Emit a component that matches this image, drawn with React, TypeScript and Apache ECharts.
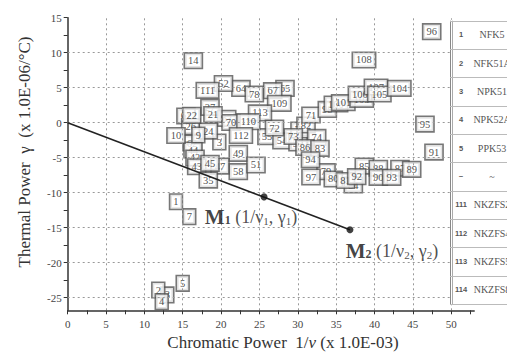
import React, { useEffect, useRef } from 'react';
import * as echarts from 'echarts';

// Glass labels (drawn in this order: later boxes cover earlier ones)
const glassIds = [
  '27', '61', '63', '26', '62', '44', '42', '47', '64', '55', '54', '59', '77', '82',
  '84', '79', '80', '81', '85', '88', '87', '3',
  '14', '52', '111', '78', '65', '67', '109', '113', '22', '21', '70', '110',
  '10', '3', '24', '9', '112', '49', '43', '45', '35', '58', '51',
  '72', '73', '74', '86', '83', '94', '97', '92', '90', '93', '89', '91', '95',
  '71', '98', '100', '101', '103', '106', '107', '105', '104', '108', '96',
  '1', '7', '5', '2', '4',
];
const chromaticPower = [
  18.55, 15.42, 20.73, 16.04, 16.21, 16.34, 16.6, 19.86, 22.59, 25.98, 27.94, 30.03, 30.29, 31.07,
  37.24, 33.68, 34.63, 36.22, 38.67, 40.5, 43.32, 12.99,
  16.38, 20.31, 18.23, 24.33, 28.33, 26.73, 27.59, 25.07, 16.17, 18.94, 21.29, 23.55,
  14.12, 19.77, 18.33, 17.03, 22.59, 22.24, 16.82, 18.55, 18.33, 22.24, 24.55,
  26.96, 29.41, 32.46, 30.94, 32.89, 31.66, 31.72, 37.68, 40.5, 42.24, 44.85, 47.76, 46.58,
  31.72, 33.85, 34.98, 35.93, 38.33, 38.11, 40.2, 40.63, 43.23, 38.63, 47.46,
  14.12, 15.85, 14.99, 11.81, 12.26,
];
const thermalPower = [
  2.2, 0.96, 0.63, -0.57, -2.9, -3.9, -5.04, -6.19, 4.89, -2.0, -2.61, -2.9, -1.04, -0.33,
  -8.9, -7.0, -8.04, -8.26, -6.19, -6.51, -6.51, -24.61,
  8.86, 5.6, 4.63, 4.1, 4.91, 4.57, 2.77, 1.39, 1.06, 1.17, 0.03, 0.14,
  -1.83, -2.76, -1.19, -1.76, -1.83, -4.37, -6.29, -5.8, -8.19, -7.0, -6.04,
  -0.76, -1.97, -2.11, -3.54, -3.66, -5.29, -7.76, -7.71, -7.8, -7.8, -6.66, -4.19, -0.19,
  1.1, 1.89, 2.67, 2.86, 3.34, 4.1, 5.1, 4.1, 4.91, 8.96, 13.0,
  -11.29, -13.43, -22.94, -23.9, -25.57,
];

// Marked points M1, M2 and the line from the origin
const markNames = ['M1', 'M2'];
const markX = [25.6, 36.8];
const markY = [-10.6, -15.3];
const lineX = [0, 36.8];
const lineY = [0, -15.3];

// Axis ticks / labels / grid
const xLabelValues = [0, 5, 10, 15, 20, 25, 30, 35, 40, 45, 50];
const xTickValues = [0, 2.5, 5, 7.5, 10, 12.5, 15, 17.5, 20, 22.5, 25, 27.5, 30, 32.5, 35, 37.5, 40, 42.5, 45, 47.5, 50, 52.5];
const yLabelValues = [-25, -20, -15, -10, -5, 0, 5, 10, 15];
const yTickValues = [-25, -22.5, -20, -17.5, -15, -12.5, -10, -7.5, -5, -2.5, 0, 2.5, 5, 7.5, 10, 12.5, 15];
const xGridValues = [5, 10, 15, 20, 25, 30, 35, 40, 45, 50];
const yGridValues = [-25, -20, -15, -10, -5, 0, 5, 10];

// Side table
const tableNums = ['1', '2', '3', '4', '5', '~', '111', '112', '113', '114'];
const tableNames = ['NFK5', 'NFK51A', 'NPK51', 'NPK52A', 'PPK53', '~', 'NKZFS2', 'NKZFS4', 'NKZFS5', 'NKZFS8'];

const SERIF = '"Liberation Serif", "Times New Roman", serif';
const SANS = '"Liberation Sans", Arial, sans-serif';

const richM = {
  M: { fontFamily: SERIF, fontSize: 21, fontWeight: 'bold', color: '#111' },
  ms: { fontFamily: SERIF, fontSize: 12, fontWeight: 'bold', color: '#111', verticalAlign: 'bottom', padding: [0, 0, 1, 0] },
  t: { fontFamily: SERIF, fontSize: 18, color: '#222' },
  ts: { fontFamily: SERIF, fontSize: 11, color: '#222', verticalAlign: 'bottom', padding: [0, 0, 1, 0] },
};

function markLabel(i: number) {
  const n = String(i + 1);
  return `{M|M}{ms|${n}}{t| (1/ν}{ts|${n}}{t|, γ}{ts|${n}}{t|)}`;
}
const markOffsets = [[-13, 20], [42, 21]];

export default function App() {
  const ref = useRef<HTMLDivElement>(null);
  useEffect(() => {
    if (!ref.current) return;
    const chart = echarts.init(ref.current, null, { renderer: 'svg' });

    const tableTop = 20.7;
    const rowH = 28.33;
    const tableBottom = tableTop + rowH * tableNums.length;
    const tableEls: any[] = [
      { type: 'rect', shape: { x: 450, y: tableTop - 1, width: 60, height: tableBottom - tableTop + 2 }, style: { fill: '#fff' }, z: 100, silent: true },
      { type: 'line', shape: { x1: 450.5, y1: tableTop, x2: 450.5, y2: tableBottom }, style: { stroke: '#888', lineWidth: 1 }, z: 101, silent: true },
      { type: 'line', shape: { x1: 452.5, y1: tableTop, x2: 452.5, y2: tableBottom }, style: { stroke: '#aaa', lineWidth: 1 }, z: 101, silent: true },
    ];
    for (let i = 0; i <= tableNums.length; i++) {
      const y = Math.round(tableTop + i * rowH) + 0.5;
      tableEls.push({ type: 'line', shape: { x1: 450, y1: y, x2: 507, y2: y }, style: { stroke: '#bbb', lineWidth: 1 }, z: 101, silent: true });
    }
    tableNums.forEach((n, i) => {
      const cy = tableTop + (i + 0.5) * rowH;
      tableEls.push({ type: 'text', x: 461, y: cy, z: 102, silent: true, style: { text: n, fontFamily: SANS, fontSize: 7.5, fontWeight: 'bold', fill: '#555', align: 'center', verticalAlign: 'middle', textAlign: 'center', textVerticalAlign: 'middle' } });
      tableEls.push({ type: 'text', x: 492, y: cy, z: 102, silent: true, style: { text: tableNames[i], fontFamily: SERIF, fontSize: 10, fill: '#555', align: 'center', verticalAlign: 'middle', textAlign: 'center', textVerticalAlign: 'middle' } });
    });

    const option: any = {
      animation: false,
      backgroundColor: '#fff',
      grid: { left: 67.7, top: 17.7, width: 406.5, height: 292.6, outerBoundsMode: 'none', containLabel: false },
      xAxis: {
        type: 'value', min: 0, max: 53,
        axisLine: { show: true, onZero: false, lineStyle: { color: '#333', width: 1.5 } },
        axisTick: { show: true, customValues: xTickValues, length: 4, lineStyle: { color: '#333', width: 1 } },
        axisLabel: { customValues: xLabelValues, fontFamily: SERIF, fontSize: 11, color: '#444', margin: 8 },
        splitLine: { show: false },
      },
      yAxis: {
        type: 'value', min: -26.8, max: 15,
        axisLine: { show: true, onZero: false, lineStyle: { color: '#333', width: 1.5 } },
        axisTick: { show: true, customValues: yTickValues, length: 4, lineStyle: { color: '#333', width: 1 } },
        axisLabel: { customValues: yLabelValues, fontFamily: SERIF, fontSize: 11, color: '#444', margin: 6 },
        splitLine: { show: false },
      },
      series: [
        {
          type: 'line', z: 1, data: [], silent: true,
          markLine: {
            silent: true, symbol: ['none', 'none'], label: { show: false },
            lineStyle: { type: [2, 3], color: '#999', width: 1 },
            emphasis: { disabled: true },
            data: [
              ...xGridValues.map((v) => ({ xAxis: v })),
              ...yGridValues.map((v) => ({ yAxis: v })),
            ],
          },
        },
        {
          type: 'scatter', z: 2, silent: true,
          symbol: 'rect', symbolSize: 1,
          itemStyle: { color: 'rgba(0,0,0,0)' },
          data: glassIds.map((id, i) => ({ name: id, value: [chromaticPower[i], thermalPower[i]] })),
          label: {
            show: true, position: 'inside', formatter: (p: any) => p.name,
            fontFamily: SERIF, fontSize: 10.5, lineHeight: 11, color: '#222',
            backgroundColor: '#fff', borderColor: '#555', borderWidth: 1.6, padding: [2, 3, 1, 3],
          },
          emphasis: { disabled: true },
        },
        {
          type: 'line', z: 5, silent: true, symbol: 'none',
          data: lineX.map((x, i) => [x, lineY[i]]),
          lineStyle: { color: '#222', width: 1.6 },
          emphasis: { disabled: true },
        },
        {
          type: 'scatter', z: 6, silent: true, symbolSize: 7,
          itemStyle: { color: '#111' },
          data: markNames.map((n, i) => ({
            name: n, value: [markX[i], markY[i]],
            label: { offset: markOffsets[i], formatter: markLabel(i) },
          })),
          label: { show: true, position: 'inside', rich: richM },
          emphasis: { disabled: true },
        },
      ],
      graphic: [
        {
          type: 'text', x: 24, y: 152, rotation: Math.PI / 2, silent: true, z: 50,
          style: { text: 'Thermal Power  γ  (x 1.0E-06/°C)', fontFamily: SERIF, fontSize: 17, fill: '#333', align: 'center', verticalAlign: 'middle', textAlign: 'center', textVerticalAlign: 'middle' },
        },
        {
          type: 'text', x: 283, y: 342, silent: true, z: 50,
          style: {
            text: '{a|Chromatic Power  1/}{i|v}{a| (x 1.0E-03)}',
            rich: {
              a: { fontFamily: SERIF, fontSize: 17, fill: '#333', color: '#333' },
              i: { fontFamily: SERIF, fontSize: 17, fontStyle: 'italic', fill: '#333', color: '#333' },
            },
            align: 'center', verticalAlign: 'middle', textAlign: 'center', textVerticalAlign: 'middle',
          },
        },
        ...tableEls,
      ],
    };
    chart.setOption(option);
    return () => chart.dispose();
  }, []);
  return <div ref={ref} style={{ position: 'absolute', left: 0, top: 0, width: 507, height: 354 }} />;
}
